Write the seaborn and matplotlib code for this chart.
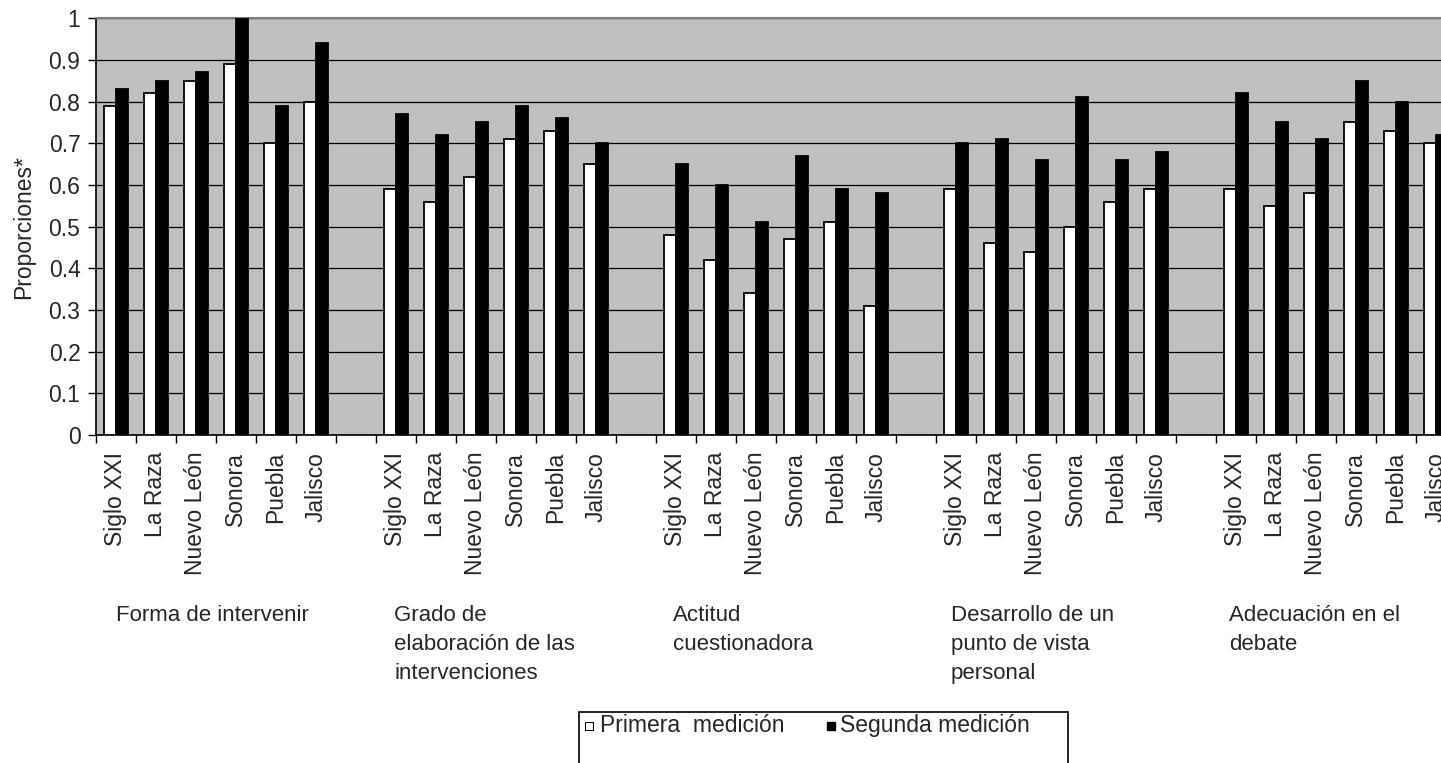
import matplotlib
matplotlib.use("Agg")
import matplotlib.pyplot as plt
import matplotlib.transforms as mtransforms
from matplotlib.patches import Rectangle
from matplotlib.lines import Line2D
import seaborn as sns
import pandas as pd

# data
hospitals = ["Siglo XXI", "La Raza", "Nuevo León", "Sonora", "Puebla", "Jalisco"]
groups = [
    "Forma de intervenir",
    "Grado de\nelaboración de las\nintervenciones",
    "Actitud\ncuestionadora",
    "Desarrollo de un\npunto de vista\npersonal",
    "Adecuación en el\ndebate",
]
primera = [
    [0.79, 0.82, 0.85, 0.89, 0.70, 0.80],
    [0.59, 0.56, 0.62, 0.71, 0.73, 0.65],
    [0.48, 0.42, 0.34, 0.47, 0.51, 0.31],
    [0.59, 0.46, 0.44, 0.50, 0.56, 0.59],
    [0.59, 0.55, 0.58, 0.75, 0.73, 0.70],
]
segunda = [
    [0.83, 0.85, 0.87, 1.00, 0.79, 0.94],
    [0.77, 0.72, 0.75, 0.79, 0.76, 0.70],
    [0.65, 0.60, 0.51, 0.67, 0.59, 0.58],
    [0.70, 0.71, 0.66, 0.81, 0.66, 0.68],
    [0.82, 0.75, 0.71, 0.85, 0.80, 0.72],
]
series = ["Primera  medición", "Segunda medición"]

# long table, one slot per hospital plus an empty slot between groups
rows = []
order = []
tick_labels = []
for g in range(len(groups)):
    for h, name in enumerate(hospitals):
        key = f"{g}_{name}"
        order.append(key)
        tick_labels.append(name)
        rows.append({"slot": key, "serie": series[0], "valor": primera[g][h]})
        rows.append({"slot": key, "serie": series[1], "valor": segunda[g][h]})
    if g < len(groups) - 1:
        order.append(f"gap{g}")
        tick_labels.append("")
df = pd.DataFrame(rows)

sns.set_style("white")
plt.rcParams["font.family"] = ["Liberation Sans", "DejaVu Sans"]
FS = 16.5

W, H = 1441, 763
fig = plt.figure(figsize=(W / 100, H / 100), dpi=100)
ax = fig.add_axes([95.7 / W, (H - 435) / H, 1360 / W, (435 - 18.3) / H])
ax.set_facecolor("#c0c0c0")

sns.barplot(data=df, x="slot", y="valor", hue="serie", order=order,
            hue_order=series, palette=["white", "black"], width=0.6,
            edgecolor="black", linewidth=1.3, legend=False, ax=ax, zorder=3)

ax.set_ylim(0, 1)
ax.set_xlim(-0.5, len(order) - 0.5)
ax.set_yticks([i / 10 for i in range(11)])
ax.set_yticklabels(["0"] + [f"0.{i}" for i in range(1, 10)] + ["1"], fontsize=FS)
ax.yaxis.grid(True, color="black", linewidth=0.9)
ax.set_axisbelow(True)
ax.tick_params(axis="y", direction="out", length=6, width=1, color="black", pad=5, left=True)

ax.set_xticks(range(len(order)))
ax.set_xticklabels(tick_labels, rotation=90, fontsize=FS)
ax.tick_params(axis="x", which="major", length=0, pad=12)
ax.set_xticks([i - 0.5 for i in range(len(order) + 1)], minor=True)
ax.tick_params(axis="x", which="minor", direction="out", length=6, width=1, color="black", bottom=True)

ax.set_xlabel("")
ax.set_ylabel("Proporciones*", fontsize=FS, labelpad=10)

for side in ["left", "bottom"]:
    ax.spines[side].set_color("black")
    ax.spines[side].set_linewidth(1.2)
for side in ["top", "right"]:
    ax.spines[side].set_color("#808080")
    ax.spines[side].set_linewidth(1.5)

# group titles under the hospital names
trans = mtransforms.blended_transform_factory(ax.transData, fig.transFigure)
for g, title in enumerate(groups):
    ax.text(g * 6.96, (H - 605) / H, title, transform=trans, ha="left", va="top",
            fontsize=16, linespacing=1.5)

# legend box (cut off by the bottom edge like the original)
fig.add_artist(Rectangle((579 / W, -0.05), (1068 - 579) / W, 0.05 + (H - 712) / H,
                         transform=fig.transFigure, facecolor="white",
                         edgecolor="black", linewidth=1.2))
ly = (H - 732) / H
my = (H - 726) / H
fig.add_artist(Line2D([589 / W], [my], marker="s", markersize=6, markerfacecolor="white",
                      markeredgecolor="black", markeredgewidth=0.8, transform=fig.transFigure))
fig.text(600 / W, ly, series[0], fontsize=FS, va="baseline", ha="left")
fig.add_artist(Line2D([831 / W], [my], marker="s", markersize=6, markerfacecolor="black",
                      markeredgecolor="black", transform=fig.transFigure))
fig.text(840 / W, ly, series[1], fontsize=FS, va="baseline", ha="left")

fig.savefig("out.png", dpi=100)
